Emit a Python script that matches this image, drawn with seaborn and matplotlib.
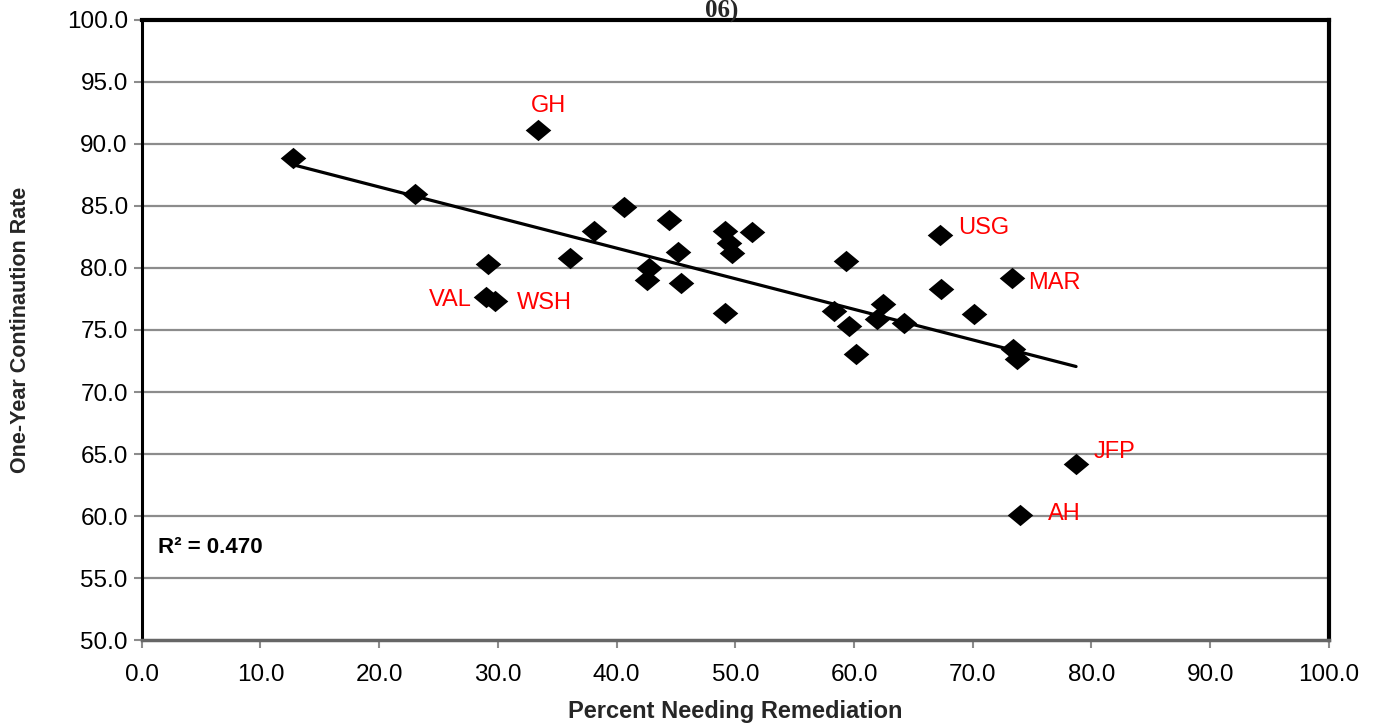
import matplotlib
matplotlib.use("Agg")
import matplotlib.pyplot as plt
import seaborn as sns
import numpy as np
import pandas as pd

# ---- data ----
pct_remediation = [12.75, 23.0, 33.4, 29.2, 29.0, 29.8, 36.1, 38.1, 40.6, 42.7,
                   42.6, 44.4, 45.2, 45.4, 49.1, 49.1, 49.5, 49.7, 51.4, 58.3,
                   59.3, 59.6, 60.2, 61.9, 62.4, 64.2, 67.2, 67.3, 70.1, 73.3,
                   73.4, 73.7, 78.7, 74.0]
continuation = [88.9, 86.0, 91.1, 80.3, 77.7, 77.3, 80.8, 83.0, 84.9, 80.0,
                79.0, 83.9, 81.3, 78.8, 76.4, 83.0, 82.0, 81.2, 82.9, 76.5,
                80.6, 75.3, 73.1, 75.9, 77.1, 75.6, 82.7, 78.3, 76.3, 79.2,
                73.5, 72.7, 64.2, 60.1]
label_text = ["GH", "USG", "MAR", "VAL", "WSH", "JFP", "AH"]
label_x = [32.8, 68.8, 74.7, 27.8, 31.6, 80.2, 76.3]
label_y = [93.1, 83.2, 78.8, 77.4, 77.2, 65.2, 60.2]
label_ha = ["left", "left", "left", "right", "left", "left", "left"]
x_ticks = [0, 10, 20, 30, 40, 50, 60, 70, 80, 90, 100]
y_ticks = [50, 55, 60, 65, 70, 75, 80, 85, 90, 95, 100]
r2_text = "R\u00b2 = 0.470"

df = pd.DataFrame({"x": pct_remediation, "y": continuation})

sns.set_theme(style="white")
plt.rcParams["font.family"] = ["Liberation Sans", "DejaVu Sans"]

fig = plt.figure(figsize=(13.77, 7.24), dpi=100)
ax = fig.add_axes([0.1029, 0.116, 0.8622, 0.8564])

# horizontal grid
for yv in y_ticks[1:-1]:
    ax.axhline(yv, color="#8c8c8c", lw=1.6, zorder=0)

diamond = [(-1.2, 0), (0, 1), (1.2, 0), (0, -1), (-1.2, 0)]
sns.scatterplot(data=df, x="x", y="y", ax=ax, marker=diamond, s=340,
                color="black", edgecolor="black", linewidth=0, zorder=3,
                legend=False)
sns.regplot(data=df, x="x", y="y", ax=ax, scatter=False, ci=None,
            truncate=True, line_kws=dict(color="black", lw=2.3, zorder=2))

for t, lx, ly, ha in zip(label_text, label_x, label_y, label_ha):
    ax.text(lx, ly, t, color="#ff0000", fontsize=17, ha=ha, va="center")

ax.text(1.4, 57.5, r2_text, fontsize=16, fontweight="bold", color="black",
        ha="left", va="center")

ax.set_xlim(0, 100)
ax.set_ylim(50, 100)
ax.set_xticks(x_ticks)
ax.set_xticklabels([f"{v:.1f}" for v in x_ticks])
ax.set_yticks(y_ticks)
ax.set_yticklabels([f"{v:.1f}" for v in y_ticks])
ax.tick_params(axis="both", which="major", labelsize=17.5, colors="#8c8c8c",
               labelcolor="black", length=6, width=1.5, direction="out",
               bottom=True, left=True)
ax.tick_params(axis="x", pad=11)
ax.tick_params(axis="y", pad=4)

ax.set_xlabel("Percent Needing Remediation", fontsize=17, fontweight="bold",
              labelpad=10)
ax.set_ylabel("One-Year Continaution Rate", fontsize=15.5, fontweight="bold",
              labelpad=26)

for side in ["top", "right", "left"]:
    ax.spines[side].set_visible(True)
    ax.spines[side].set_color("black")
ax.spines["top"].set_linewidth(3)
ax.spines["right"].set_linewidth(3)
ax.spines["left"].set_linewidth(2.2)
ax.spines["bottom"].set_color("#666666")
ax.spines["bottom"].set_linewidth(2.5)

fig.text(0.524, 0.984, "06)", fontsize=18, fontweight="bold",
         family=["Liberation Serif", "DejaVu Serif"], ha="center", va="center")

fig.savefig("out.png", dpi=100, facecolor="white")
